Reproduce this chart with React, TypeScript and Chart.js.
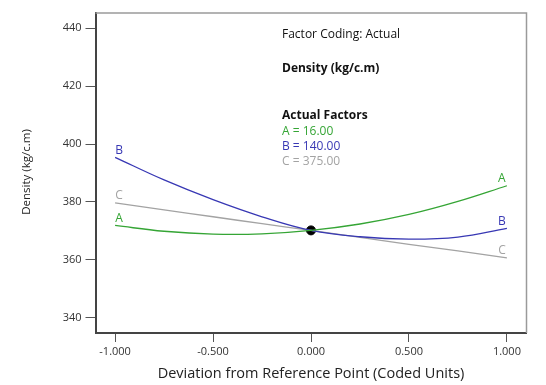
import React, { useEffect, useRef } from "react";
import { Chart, registerables } from "chart.js";

Chart.register(...registerables);

const xValues = [-1, -0.75, -0.5, -0.25, 0, 0.25, 0.5, 0.75, 1];
const seriesA = [371.9, 369.9, 368.9, 369.0, 370.2, 372.4, 375.7, 380.2, 385.6];
const seriesB = [395.4, 387.6, 380.8, 374.9, 370.2, 368.0, 367.2, 367.9, 370.9];
const seriesC = [379.7, 377.3, 374.9, 372.5, 370.2, 367.8, 365.4, 363.1, 360.7];
const referencePoint = [{ x: 0, y: 370.2 }];
const xTicks = [-1, -0.5, 0, 0.5, 1];
const yTicks = [340, 360, 380, 400, 420, 440];
const seriesNames = ["A", "B", "C"];
const factorLines = ["A = 16.00", "B = 140.00", "C = 375.00"];

const GREEN = "#35a535";
const BLUE = "#3838b4";
const GRAY = "#a3a3a3";
const FONT = "'Open Sans', 'Noto Sans', sans-serif";

export default function App() {
  const ref = useRef<HTMLCanvasElement | null>(null);

  useEffect(() => {
    document.body.style.margin = "0";
    const canvas = ref.current;
    if (!canvas) return;
    const colors = [GREEN, BLUE, GRAY];
    const all = [seriesA, seriesB, seriesC];

    const overlay = {
      id: "overlay",
      afterDraw(chart: any) {
        const { ctx, chartArea } = chart;
        const xs = chart.scales.x;
        const ys = chart.scales.y;
        ctx.save();
        // top/right frame
        ctx.strokeStyle = "#9a9a9a";
        ctx.lineWidth = 1.5;
        ctx.beginPath();
        ctx.moveTo(chartArea.left, chartArea.top);
        ctx.lineTo(chartArea.right, chartArea.top);
        ctx.lineTo(chartArea.right, chartArea.bottom);
        ctx.stroke();
        // curve labels
        ctx.font = `12px ${FONT}`;
        ctx.textAlign = "center";
        ctx.textBaseline = "bottom";
        all.forEach((s, i) => {
          ctx.fillStyle = colors[i];
          const n = s.length - 1;
          ctx.fillText(seriesNames[i], xs.getPixelForValue(xValues[0]) + 4, ys.getPixelForValue(s[0]) - 1);
          ctx.fillText(seriesNames[i], xs.getPixelForValue(xValues[n]) - 5, ys.getPixelForValue(s[n]) - 1);
        });
        // annotation text block
        ctx.textAlign = "left";
        ctx.textBaseline = "middle";
        ctx.fillStyle = "#111";
        ctx.font = `12px ${FONT}`;
        ctx.fillText("Factor Coding: Actual", 282, 35);
        ctx.font = `bold 12px ${FONT}`;
        ctx.fillText("Density (kg/c.m)", 282, 69);
        ctx.fillText("Actual Factors", 282, 116);
        ctx.font = `12px ${FONT}`;
        factorLines.forEach((t, i) => {
          ctx.fillStyle = colors[i];
          ctx.fillText(t, 282, 131.5 + i * 15);
        });
        // axis titles
        ctx.fillStyle = "#222";
        ctx.font = `14.5px ${FONT}`;
        ctx.textAlign = "center";
        ctx.fillText("Deviation from Reference Point (Coded Units)", 311, 374);
        ctx.save();
        ctx.translate(27, 172);
        ctx.rotate(-Math.PI / 2);
        ctx.font = `11.5px ${FONT}`;
        ctx.fillText("Density (kg/c.m)", 0, 0);
        ctx.restore();
        ctx.restore();
      },
    };

    const chart = new Chart(canvas, {
      type: "line",
      data: {
        datasets: [
          ...all.map((s, i) => ({
            label: seriesNames[i],
            data: xValues.map((x, j) => ({ x, y: s[j] })),
            borderColor: colors[i],
            borderWidth: 1.3,
            pointRadius: 0,
            tension: 0.4,
            fill: false,
          })),
          {
            label: "ref",
            data: referencePoint,
            showLine: false,
            pointRadius: 4.5,
            pointBackgroundColor: "#000",
            pointBorderColor: "#000",
          },
        ],
      },
      options: {
        animation: false,
        responsive: false,
        maintainAspectRatio: false,
        layout: { padding: { left: 0, top: 13, right: 19.5, bottom: 0 } },
        plugins: { legend: { display: false }, tooltip: { enabled: false } },
        scales: {
          x: {
            type: "linear",
            min: -1.1,
            max: 1.1,
            afterBuildTicks: (s: any) => {
              s.ticks = xTicks.map((v) => ({ value: v }));
            },
            afterFit: (s: any) => {
              s.height = 52;
            },
            grid: { drawOnChartArea: false, drawTicks: true, tickLength: 9, color: "#555", lineWidth: 1 },
            border: { display: true, color: "#444", width: 2 },
            ticks: {
              color: "#333",
              font: { family: FONT, size: 11 },
              padding: 3,
              maxRotation: 0,
              callback: (v: any) => Number(v).toFixed(3),
            },
          },
          y: {
            type: "linear",
            min: 334.8,
            max: 445.2,
            afterBuildTicks: (s: any) => {
              s.ticks = yTicks.map((v) => ({ value: v }));
            },
            afterFit: (s: any) => {
              s.width = 95.5;
            },
            grid: { drawOnChartArea: false, drawTicks: true, tickLength: 10, color: "#555", lineWidth: 1 },
            border: { display: true, color: "#444", width: 2 },
            ticks: {
              color: "#333",
              font: { family: FONT, size: 11 },
              padding: 4,
              callback: (v: any) => String(v),
            },
          },
        },
      },
      plugins: [overlay],
    });
    return () => chart.destroy();
  }, []);

  return (
    <div style={{ position: "fixed", left: 0, top: 0, width: 546, height: 385, background: "#fff" }}>
      <canvas ref={ref} width={546} height={385} style={{ width: 546, height: 385 }} />
    </div>
  );
}
